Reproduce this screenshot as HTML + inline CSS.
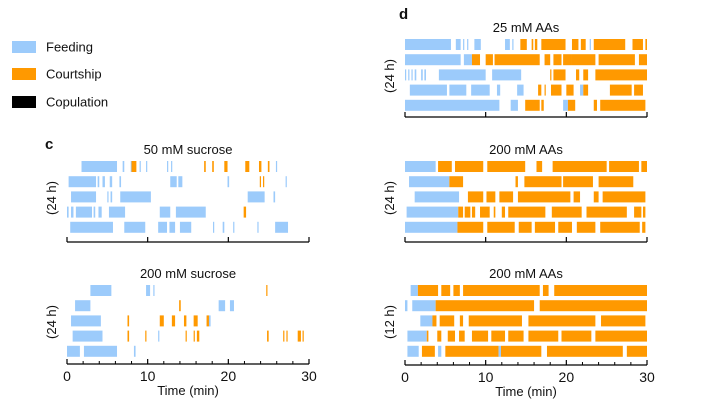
<!DOCTYPE html>
<html><head><meta charset="utf-8"><style>
body{margin:0;background:#fff;width:701px;height:406px;overflow:hidden}
svg text{font-family:"Liberation Sans",sans-serif;fill:#111}
</style></head><body>
<svg id="s" width="701" height="406" viewBox="0 0 701 406" xmlns="http://www.w3.org/2000/svg">
<g>
<rect x="12" y="41" width="24" height="12" fill="#9ccbfb"/>
<text x="46" y="51.5" font-size="13">Feeding</text>
<rect x="12" y="68" width="24" height="12" fill="#ff9900"/>
<text x="46" y="78.5" font-size="13">Courtship</text>
<rect x="12" y="96" width="24" height="12" fill="#000"/>
<text x="46" y="106.5" font-size="13">Copulation</text>
</g>
<text x="45" y="149" font-size="15" font-weight="bold">c</text>
<text x="399" y="19" font-size="15" font-weight="bold">d</text>
</svg>
<script>
// Feeding = 'f', Courtship = 'c'; times in minutes
const sucrose50 = [
 [[1.8,6.2,'f'],[6.9,7.1,'f'],[7.9,8.0,'f'],[8.0,8.6,'c'],[9.0,9.1,'f'],[9.8,9.9,'f'],[12.4,12.5,'f'],[12.9,13.0,'f'],[17.0,17.2,'c'],[18.0,18.2,'c'],[19.5,19.9,'c'],[22.1,22.6,'c'],[23.8,24.1,'c'],[24.9,25.1,'c'],[25.9,26.0,'f']],
 [[0.2,3.6,'f'],[3.8,4.0,'f'],[4.4,4.7,'f'],[5.3,5.6,'f'],[6.5,6.7,'f'],[12.8,13.6,'f'],[13.8,14.3,'f'],[19.9,20.1,'f'],[23.9,24.0,'c'],[24.3,24.4,'c'],[27.1,27.2,'f']],
 [[0.5,3.6,'f'],[5.0,5.1,'f'],[5.4,5.6,'f'],[6.6,10.4,'f'],[22.4,24.5,'f'],[25.6,25.8,'f']],
 [[0.0,0.2,'f'],[0.5,0.8,'f'],[1.1,3.1,'f'],[3.3,3.5,'f'],[3.9,4.3,'f'],[5.2,7.2,'f'],[11.5,12.8,'f'],[13.5,17.2,'f'],[21.9,22.2,'c']],
 [[0.4,5.7,'f'],[7.1,9.7,'f'],[11.3,12.4,'f'],[12.7,13.4,'f'],[14.0,15.4,'f'],[18.1,18.2,'f'],[19.3,19.5,'f'],[20.6,20.7,'f'],[23.6,23.7,'f'],[25.8,27.4,'f']]
];
const sucrose200 = [
 [[2.9,5.5,'f'],[9.8,10.3,'f'],[10.7,10.8,'f'],[24.7,24.8,'c']],
 [[1.0,2.9,'f'],[13.9,14.1,'c'],[18.8,19.6,'f'],[20.2,20.7,'f']],
 [[0.5,4.2,'f'],[7.5,7.7,'c'],[11.5,12.0,'c'],[13.0,13.4,'c'],[14.5,14.8,'c'],[15.7,16.2,'c'],[17.3,17.6,'c'],[17.6,17.8,'f']],
 [[0.7,4.4,'f'],[7.5,7.7,'c'],[9.7,9.8,'c'],[11.3,11.4,'f'],[14.7,14.8,'c'],[15.7,15.8,'c'],[16.1,16.4,'c'],[24.8,25.0,'c'],[26.8,26.9,'c'],[27.2,27.3,'c'],[28.6,29.0,'c'],[29.2,29.3,'c']],
 [[0.0,1.6,'f'],[2.1,6.2,'f'],[8.3,8.5,'f']]
];
const aa25 = [
 [[0,5.7,'f'],[6.3,6.9,'f'],[7.2,7.3,'f'],[7.7,7.8,'f'],[8.6,9.4,'f'],[12.4,13.0,'f'],[13.3,13.4,'f'],[14.3,15.1,'c'],[15.7,15.9,'c'],[16.1,16.4,'c'],[16.9,19.9,'c'],[20.7,21.5,'c'],[21.8,22.4,'c'],[22.9,23.0,'f'],[23.4,27.3,'c'],[28.2,29.5,'c'],[29.8,30,'c']],
 [[0,6.9,'f'],[7.3,8.3,'f'],[8.3,9.3,'c'],[10.0,10.9,'c'],[11.1,16.7,'c'],[17.3,18.0,'c'],[18.4,19.4,'c'],[19.6,20.7,'c'],[20.7,23.6,'c'],[24.0,28.5,'c'],[29.0,30,'c']],
 [[0,0.1,'f'],[0.4,0.5,'f'],[0.8,0.9,'f'],[1.2,1.4,'f'],[2.0,2.2,'f'],[2.4,2.6,'f'],[4.2,10.0,'f'],[10.8,14.4,'f'],[18.0,18.1,'c'],[18.4,19.9,'c'],[21.2,21.6,'c'],[22.1,22.7,'c'],[23.6,30,'c']],
 [[0.6,5.2,'f'],[5.5,7.6,'f'],[8.2,10.5,'f'],[11.4,11.8,'f'],[13.9,14.7,'f'],[16.5,16.9,'c'],[17.3,17.4,'c'],[18.1,19.4,'c'],[20.0,20.9,'c'],[21.7,22.1,'f'],[22.1,22.7,'c'],[25.4,28.1,'c'],[28.4,29.5,'c']],
 [[0,11.7,'f'],[13.1,14.0,'f'],[14.9,16.7,'c'],[16.9,17.2,'c'],[19.6,20.2,'f'],[20.2,21.1,'c'],[23.4,23.8,'c'],[24.2,29.8,'c']]
];
const aa200 = [
 [[0,3.8,'f'],[4.1,5.8,'c'],[6.2,9.7,'c'],[10.2,14.9,'c'],[16.3,17.0,'c'],[18.3,25.0,'c'],[25.3,29.0,'c'],[29.3,30,'c']],
 [[0.5,5.5,'f'],[5.5,7.2,'c'],[13.7,14.0,'c'],[14.8,19.4,'c'],[19.6,23.3,'c'],[24.0,28.3,'c']],
 [[1.2,6.7,'f'],[7.8,9.7,'c'],[10.1,11.2,'c'],[11.7,13.4,'c'],[14.0,20.5,'c'],[20.9,21.7,'c'],[23.4,24.0,'c'],[24.5,29.8,'c']],
 [[0.2,6.6,'f'],[6.6,7.2,'c'],[7.4,8.1,'c'],[8.3,8.7,'c'],[9.3,10.5,'c'],[11.0,11.2,'c'],[12.0,12.4,'c'],[12.8,17.4,'c'],[18.2,21.9,'c'],[22.5,27.5,'c'],[28.4,29.3,'c'],[29.5,29.8,'c']],
 [[0,6.5,'f'],[6.5,9.7,'c'],[10.2,13.6,'c'],[14.1,15.7,'c'],[16.1,18.6,'c'],[19.0,20.7,'c'],[21.3,23.6,'c'],[24.2,29.1,'c'],[29.4,29.8,'c']]
];
const aa200h12 = [
 [[0.7,1.6,'f'],[1.6,4.1,'c'],[4.5,5.6,'c'],[6.0,6.8,'c'],[7.2,16.7,'c'],[17.1,17.8,'c'],[18.5,30,'c']],
 [[0,0.3,'f'],[0.9,3.8,'f'],[3.8,16.0,'c'],[16.7,30,'c']],
 [[1.9,3.4,'f'],[3.4,3.9,'c'],[4.3,6.1,'c'],[6.8,7.2,'c'],[7.9,14.5,'c'],[15.3,23.6,'c'],[24.3,29.8,'c']],
 [[0.3,2.7,'f'],[2.7,2.9,'c'],[4.0,4.5,'c'],[5.3,6.2,'c'],[6.7,7.4,'c'],[8.3,10.3,'c'],[10.7,12.4,'c'],[12.8,14.7,'c'],[15.3,19.0,'c'],[19.4,23.1,'c'],[23.6,30,'c']],
 [[0.3,1.7,'f'],[2.1,3.7,'c'],[4.1,4.5,'f'],[5.0,11.6,'c'],[11.6,11.9,'f'],[11.9,16.9,'c'],[17.6,27.0,'c'],[27.5,30,'c']]
];
const tickLabels = ['0','10','20','30'];
const tickValues = [0,10,20,30];

const NS='http://www.w3.org/2000/svg';
const svg=document.getElementById('s');
const COL={f:'#9ccbfb',c:'#ff9900'};
function mk(tag,attrs,parent){const e=document.createElementNS(NS,tag);for(const k in attrs)e.setAttribute(k,attrs[k]);(parent||svg).appendChild(e);return e;}

function panel(name,title,data,x0,x1,rowTop,axisY,ylab,full){
  const g=mk('g',{});
  
  
  const xs=t=>x0+(x1-x0)*t/30;
  const t=mk('text',{x:(x0+x1)/2,y:rowTop-7,'font-size':13,'text-anchor':'middle'},g);
  t.textContent=title;
  
  
  data.forEach((row,ri)=>{
    const y=rowTop+ri*15.2;
    row.forEach(seg=>{
      const r=mk('rect',{x:xs(seg[0]),y:y,width:Math.max(1.2,xs(seg[1])-xs(seg[0])),height:11,fill:COL[seg[2]]},g);
      
      
    });
  });
  const yl=mk('text',{x:0,y:0,'font-size':13,'text-anchor':'middle',transform:`translate(${x0-11},${rowTop+37}) rotate(-90)`},g);
  yl.textContent=ylab;
  
  
  const ax=mk('g',{},g);
  
  
  mk('line',{x1:x0,x2:x1,y1:axisY,y2:axisY,stroke:'#000','stroke-width':1.2},ax);
  tickValues.forEach((v,i)=>{
    mk('line',{x1:xs(v),x2:xs(v),y1:axisY,y2:axisY-5,stroke:'#000','stroke-width':1.2},ax);
    if(full){
      const tl=mk('text',{x:xs(v),y:axisY+17,'font-size':14,'text-anchor':'middle'},ax);
      tl.textContent=tickLabels[i];
      
      
    }
  });
  if(full){
    for(let m=2;m<30;m+=2){ if(m%10) mk('line',{x1:xs(m),x2:xs(m),y1:axisY,y2:axisY-3,stroke:'#000','stroke-width':1},ax); }
    const xt=mk('text',{x:(x0+x1)/2,y:axisY+31,'font-size':13,'text-anchor':'middle'},ax);
    xt.textContent='Time (min)';
    
    
  }
}
panel('sucrose-50-panel','50 mM sucrose',sucrose50,67,309,161,242,'(24 h)',false);
panel('sucrose-200-panel','200 mM sucrose',sucrose200,67,309,285,364,'(24 h)',true);
panel('aa-25-panel','25 mM AAs',aa25,405,647,39,117,'(24 h)',false);
panel('aa-200-panel','200 mM AAs',aa200,405,647,161,242,'(24 h)',false);
panel('aa-200-12h-panel','200 mM AAs',aa200h12,405,647,285,365,'(12 h)',true);
</script>
</body></html>
